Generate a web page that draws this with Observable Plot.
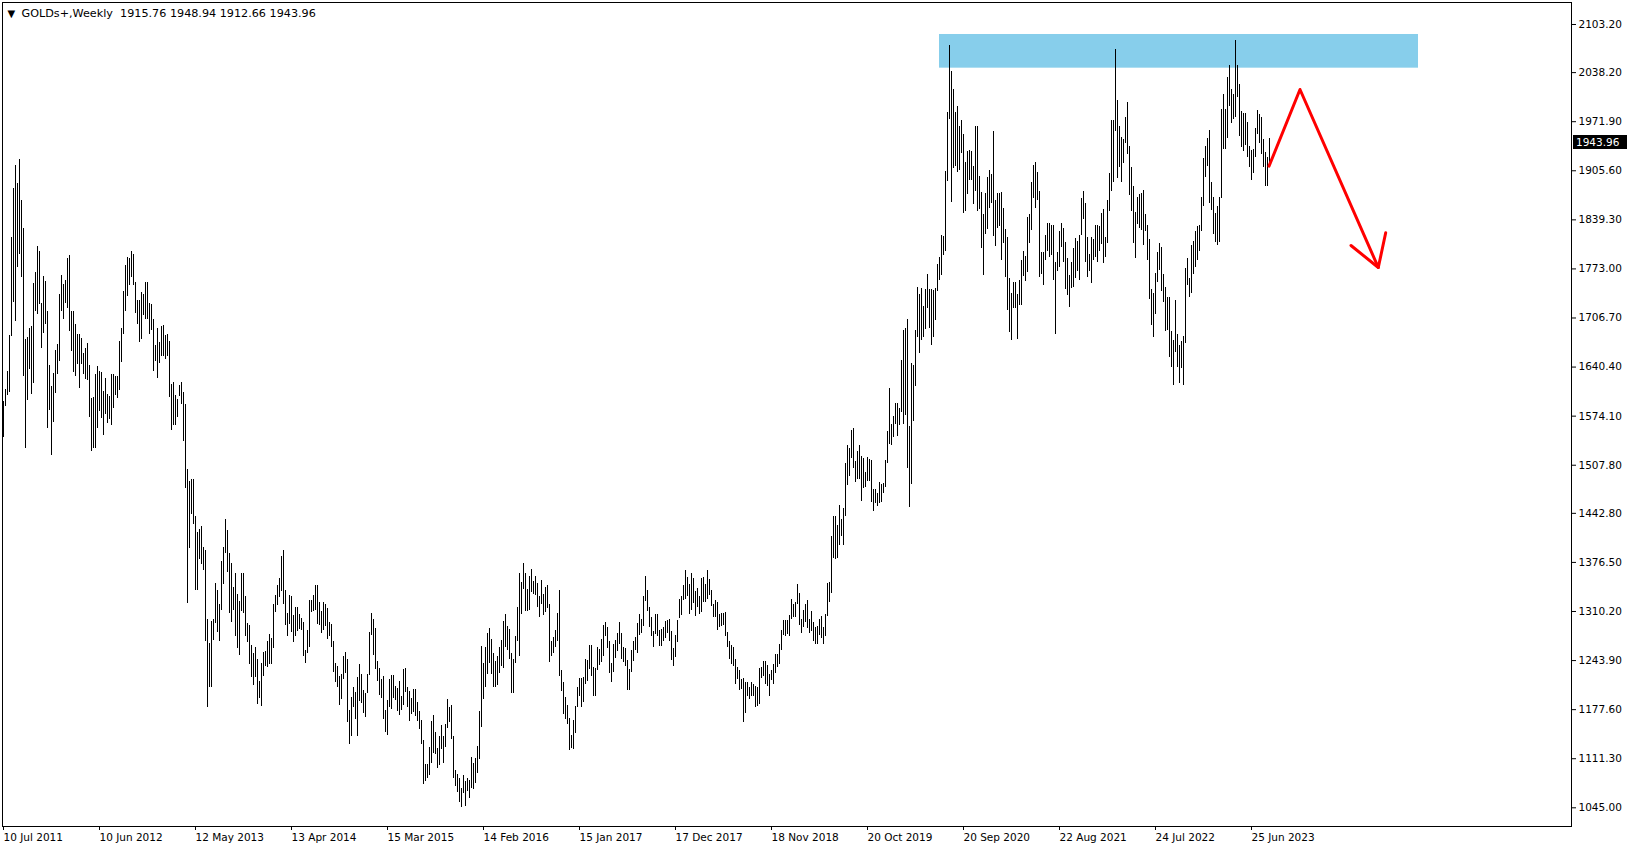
<!DOCTYPE html>
<html>
<head>
<meta charset="utf-8">
<script src="https://cdn.jsdelivr.net/npm/d3@7"></script>
<script src="https://cdn.jsdelivr.net/npm/@observablehq/plot@0.6"></script>
<style>
html, body { margin: 0; padding: 0; background: #fff; }
#chart svg { display: block; }
</style>
</head>
<body>
<div id="chart"></div>
<script>
// ---- chart text ----
const symbolName = "GOLDs+";
const periodName = "Weekly";
const lastOHLC = [1915.76, 1948.94, 1912.66, 1943.96];

// ---- axes ----
const xTickIdx = [0, 48, 96, 144, 192, 240, 288, 336, 384, 432, 480, 528, 576, 624];
const xTickLabels = ["10 Jul 2011", "10 Jun 2012", "12 May 2013", "13 Apr 2014", "15 Mar 2015", "14 Feb 2016",
  "15 Jan 2017", "17 Dec 2017", "18 Nov 2018", "20 Oct 2019", "20 Sep 2020", "22 Aug 2021", "24 Jul 2022", "25 Jun 2023"];
const yTicks = [1045.00, 1111.30, 1177.60, 1243.90, 1310.20, 1376.50, 1442.80, 1507.80, 1574.10,
  1640.40, 1706.70, 1773.00, 1839.30, 1905.60, 1971.90, 2038.20, 2103.20];

// ---- resistance zone (bar index, price) ----
const zoneIdx = [468, 707.5];
const zonePrice = [2044.2, 2089.7];

// ---- hand-drawn red arrow (bar index, price, stroke id) ----
const arrowIdx = [632.75, 648.25, 687.4, 691.1, 673.75, 687.4];
const arrowPrice = [1911.8, 2015.4, 1774.9, 1821.8, 1804.6, 1774.9];
const arrowStroke = [0, 0, 0, 0, 1, 1];

// ---- weekly bars [high, low], one week per entry, from the week of 10 Jul 2011 ----
const w2011 = [[1594,1545],[1610,1587],[1634,1602],[1683,1606],[1815,1682],[1881,1728],[1913,1702],[1889,1775],[1921,1793],[1865,1762],
  [1828,1628],[1678,1531],[1680,1595],[1692,1637],[1695,1604],[1753,1618],[1768,1716],[1803,1711],[1797,1725],[1726,1666],
  [1763,1686],[1756,1698],[1716,1558],[1642,1582],[1614,1521]];
const w2012 = [[1632,1566],[1663,1605],[1671,1630],[1739,1648],[1764,1716],[1752,1705],[1757,1726],[1787,1720],[1791,1688],[1716,1662],
  [1716,1633],[1698,1628],[1684,1644],[1684,1611],[1679,1644],[1659,1630],[1666,1623],[1672,1622],[1642,1572],[1598,1526],
  [1599,1531],[1631,1531],[1641,1558],[1635,1580],[1633,1571],[1608,1548],[1625,1576],[1603,1564],[1600,1569],[1630,1562],
  [1630,1584],[1627,1602],[1627,1598],[1675,1609],[1693,1646],[1743,1684],[1777,1716],[1788,1736],[1787,1751],[1797,1762],
  [1792,1750],[1754,1713],[1731,1698],[1730,1673],[1741,1677],[1739,1710],[1754,1704],[1755,1705],[1726,1685],[1725,1690],
  [1705,1634],[1670,1648],[1693,1625]];
const w2013 = [[1673,1645],[1695,1655],[1697,1655],[1683,1650],[1684,1655],[1675,1599],[1617,1555],[1619,1562],[1602,1562],[1597,1572],
  [1616,1600],[1620,1590],[1606,1540],[1590,1476],[1502,1321],[1486,1395],[1488,1441],[1488,1428],[1438,1339],[1417,1338],
  [1421,1380],[1425,1374],[1397,1366],[1392,1269],[1299,1180],[1267,1207],[1297,1208],[1300,1271],[1348,1294],[1339,1282],
  [1320,1270],[1378,1312],[1397,1346],[1434,1389],[1419,1363],[1388,1307],[1375,1295],[1343,1311],[1362,1277],[1333,1260],
  [1324,1251],[1362,1310],[1361,1308],[1330,1277],[1294,1268],[1291,1238],[1264,1221],[1253,1210],[1261,1221],[1246,1185],
  [1216,1193],[1240,1182]];
const w2014 = [[1255,1223],[1256,1236],[1270,1235],[1279,1238],[1274,1238],[1320,1260],[1332,1309],[1345,1318],[1355,1329],[1385,1337],
  [1392,1320],[1339,1291],[1307,1277],[1332,1292],[1331,1282],[1305,1268],[1316,1277],[1315,1283],[1306,1286],[1301,1284],
  [1296,1250],[1258,1240],[1284,1253],[1325,1262],[1325,1309],[1332,1310],[1345,1311],[1345,1292],[1322,1291],[1310,1281],
  [1322,1285],[1320,1290],[1314,1273],[1296,1276],[1293,1262],[1270,1228],[1240,1214],[1236,1207],[1223,1183],[1225,1191],
  [1250,1219],[1255,1226],[1245,1160],[1177,1131],[1194,1142],[1207,1180],[1201,1164],[1221,1142],[1238,1188],[1225,1186],
  [1203,1172],[1200,1167]];
const w2015 = [[1225,1200],[1282,1224],[1307,1278],[1300,1251],[1287,1232],[1243,1216],[1233,1197],[1219,1192],[1222,1164],[1176,1147],
  [1190,1143],[1219,1180],[1224,1178],[1224,1193],[1209,1190],[1206,1175],[1215,1170],[1195,1177],[1232,1183],[1233,1201],
  [1207,1181],[1202,1162],[1193,1171],[1205,1174],[1205,1168],[1187,1162],[1175,1151],[1163,1130],[1136,1077],[1104,1080],
  [1104,1085],[1126,1089],[1162,1105],[1170,1118],[1147,1117],[1125,1098],[1141,1102],[1156,1124],[1141,1105],[1158,1127],
  [1191,1152],[1180,1160],[1183,1137],[1142,1085],[1095,1074],[1090,1065],[1085,1052],[1071,1046],[1088,1064],[1080,1047],
  [1085,1067],[1082,1058]];
const w2016 = [[1113,1071],[1105,1070],[1112,1078],[1128,1092],[1175,1110],[1263,1154],[1240,1191],[1262,1208],[1281,1225],[1287,1240],
  [1272,1225],[1253,1208],[1243,1208],[1250,1210],[1262,1226],[1271,1236],[1297,1233],[1306,1262],[1290,1257],[1286,1245],
  [1253,1200],[1245,1200],[1276,1240],[1316,1270],[1362,1250],[1350,1306],[1375,1340],[1362,1310],[1340,1310],[1357,1312],
  [1367,1336],[1351,1333],[1358,1332],[1348,1316],[1330,1302],[1352,1320],[1333,1305],[1343,1309],[1345,1314],[1319,1241],
  [1270,1250],[1275,1254],[1284,1261],[1308,1270],[1338,1222],[1230,1202],[1214,1171],[1194,1164],[1183,1157],[1165,1122],
  [1143,1125],[1163,1124]];
const w2017 = [[1182,1146],[1207,1180],[1220,1195],[1220,1180],[1221,1187],[1245,1212],[1244,1216],[1264,1232],[1264,1223],[1235,1195],
  [1233,1196],[1261,1231],[1259,1237],[1273,1241],[1291,1249],[1296,1276],[1289,1260],[1269,1227],[1240,1214],[1265,1228],
  [1271,1247],[1281,1256],[1296,1265],[1280,1245],[1261,1241],[1260,1236],[1244,1204],[1232,1204],[1257,1228],[1270,1243],
  [1275,1257],[1294,1253],[1306,1278],[1300,1280],[1330,1290],[1357,1324],[1339,1310],[1316,1288],[1302,1276],[1283,1261],
  [1306,1279],[1306,1276],[1284,1263],[1286,1263],[1289,1269],[1297,1274],[1298,1280],[1299,1270],[1283,1244],[1260,1236],
  [1278,1248],[1298,1268],[1326,1301]];
const w2018 = [[1330,1305],[1345,1325],[1366,1327],[1356,1330],[1346,1306],[1362,1311],[1355,1321],[1337,1303],[1341,1316],[1330,1306],
  [1355,1309],[1356,1322],[1346,1322],[1365,1326],[1354,1332],[1338,1317],[1319,1302],[1325,1302],[1322,1285],[1306,1288],
  [1307,1290],[1308,1291],[1309,1277],[1282,1261],[1270,1246],[1264,1238],[1262,1236],[1245,1211],[1235,1219],[1230,1204],
  [1219,1205],[1220,1160],[1214,1172],[1214,1195],[1208,1191],[1214,1195],[1211,1195],[1209,1180],[1208,1182],[1233,1184],
  [1234,1220],[1243,1222],[1243,1211],[1237,1209],[1225,1196],[1230,1217],[1238,1212],[1252,1227],[1252,1234],[1266,1239],
  [1284,1257],[1298,1278]];
const w2019 = [[1298,1276],[1298,1279],[1305,1276],[1326,1299],[1320,1302],[1322,1302],[1346,1319],[1335,1291],[1300,1281],[1312,1289],
  [1320,1296],[1325,1287],[1300,1280],[1310,1283],[1295,1270],[1289,1266],[1290,1266],[1300,1278],[1303,1274],[1289,1266],
  [1306,1276],[1348,1304],[1349,1322],[1411,1335],[1439,1382],[1438,1381],[1426,1382],[1453,1400],[1434,1412],[1449,1400],
  [1510,1439],[1535,1480],[1531,1492],[1555,1517],[1557,1503],[1513,1484],[1526,1488],[1535,1488],[1519,1459],[1517,1476],
  [1498,1478],[1518,1486],[1516,1486],[1514,1457],[1475,1445],[1475,1456],[1470,1452],[1485,1456],[1482,1457],[1483,1470],
  [1514,1478],[1553,1510]];
const w2020 = [[1611,1536],[1563,1535],[1573,1545],[1591,1563],[1591,1547],[1584,1562],[1649,1579],[1690,1563],[1692,1575],[1704,1504],
  [1560,1451],[1645,1482],[1643,1567],[1690,1614],[1748,1680],[1739,1659],[1747,1676],[1722,1680],[1745,1691],[1765,1720],
  [1745,1692],[1745,1670],[1744,1681],[1747,1703],[1779,1742],[1789,1757],[1818,1764],[1817,1791],[1905,1797],[1984,1891],
  [2075,1975],[2040,1863],[2016,1909],[1984,1911],[1992,1903],[1966,1906],[1973,1929],[1954,1848],[1917,1850],[1932,1874],
  [1933,1892],[1931,1893],[1911,1860],[1966,1877],[1965,1850],[1898,1853],[1876,1800],[1847,1764],[1875,1820],[1896,1826],
  [1906,1855],[1900,1862]];
const w2021 = [[1959,1817],[1865,1803],[1875,1827],[1875,1830],[1876,1785],[1855,1808],[1826,1761],[1816,1717],[1760,1687],[1740,1676],
  [1755,1720],[1755,1720],[1738,1678],[1758,1723],[1784,1724],[1797,1763],[1790,1756],[1843,1768],[1846,1808],[1890,1825],
  [1913,1868],[1917,1855],[1903,1865],[1878,1761],[1795,1766],[1795,1750],[1818,1784],[1834,1796],[1834,1789],[1832,1791],
  [1832,1757],[1782,1684],[1795,1770],[1823,1775],[1834,1802],[1827,1782],[1809,1745],[1787,1737],[1764,1721],[1781,1746],
  [1800,1748],[1814,1760],[1810,1770],[1818,1758],[1868,1818],[1877,1840],[1862,1781],[1816,1762],[1793,1770],[1816,1753],
  [1813,1785],[1831,1789]];
const w2022 = [[1832,1782],[1830,1797],[1848,1806],[1853,1780],[1815,1788],[1865,1807],[1902,1850],[1974,1878],[1973,1890],[2070,1958],
  [2000,1895],[1966,1910],[1950,1890],[1948,1915],[1978,1942],[1998,1928],[1939,1872],[1910,1850],[1884,1807],[1849,1787],
  [1870,1833],[1874,1828],[1875,1825],[1879,1805],[1847,1823],[1831,1784],[1813,1732],[1745,1697],[1740,1680],[1767,1711],
  [1795,1754],[1808,1771],[1802,1743],[1765,1728],[1748,1689],[1735,1690],[1735,1654],[1688,1640],[1676,1615],[1730,1660],
  [1685,1640],[1670,1618],[1675,1638],[1682,1616],[1773,1672],[1787,1750],[1760,1735],[1805,1740],[1810,1765],[1824,1775],
  [1830,1785],[1832,1797]];
const w2023 = [[1870,1824],[1922,1858],[1938,1896],[1949,1911],[1960,1861],[1890,1852],[1870,1819],[1848,1809],[1858,1805],[1870,1809],
  [1989,1868],[2009,1934],[1988,1934],[2032,1949],[2048,1992],[2015,1969],[2009,1975],[2081,1978],[2048,2004],[2022,1952],
  [1985,1937],[1983,1932],[1983,1940],[1971,1924],[1938,1910],[1933,1893],[1935,1902],[1963,1923],[1987,1954],[1982,1942],
  [1978,1928],[1948,1910],[1930,1885],[1923,1884],[1948.94,1912.66]];

// ---- build tables for the library ----
const weeks = [w2011, w2012, w2013, w2014, w2015, w2016, w2017, w2018, w2019, w2020, w2021, w2022, w2023].flat();
const bars = weeks.map(([high, low], i) => ({i, high, low}));
const zone = [{x1: zoneIdx[0], x2: zoneIdx[1], y1: zonePrice[0], y2: zonePrice[1]}];
const arrow = arrowIdx.map((x, k) => ({x, y: arrowPrice[k], z: arrowStroke[k]}));
const titleText = `${symbolName},${periodName}\u00a0\u00a0${lastOHLC.map(v => v.toFixed(2)).join(" ")}`;

const chart = Plot.plot({
  width: 1635,
  height: 850,
  marginLeft: 2,
  marginRight: 64,
  marginTop: 2,
  marginBottom: 24,
  x: {type: "linear", domain: [-0.5, 784], axis: null},
  y: {type: "linear", domain: [1019.74, 2132.92], axis: null},
  style: {background: "#ffffff", color: "#000000", fontFamily: "'DejaVu Sans', sans-serif", fontSize: "10.5px"},
  marks: [
    Plot.rect(zone, {x1: "x1", x2: "x2", y1: "y1", y2: "y2", fill: "#87CEEB"}),
    Plot.ruleX(bars, {x: "i", y1: "low", y2: "high", stroke: "#000000", strokeWidth: 1, shapeRendering: "crispEdges"}),
    Plot.line(arrow, {x: "x", y: "y", z: "z", stroke: "#ff0000", strokeWidth: 3, strokeLinejoin: "round", strokeLinecap: "round"}),
    Plot.frame({stroke: "#000000"}),
    Plot.axisX({
      ticks: xTickIdx,
      tickFormat: d => xTickLabels[xTickIdx.indexOf(d)],
      tickSize: 4,
      tickPadding: 3,
      textAnchor: "start",
      label: null
    }),
    Plot.axisY({
      anchor: "right",
      ticks: yTicks,
      tickFormat: d => d.toFixed(2),
      tickSize: 4,
      tickPadding: 3,
      label: null
    }),
    Plot.text([titleText], {frameAnchor: "top-left", dx: 19, dy: 7, textAnchor: "start", lineAnchor: "top", fontSize: 11.2, text: d => d, fill: "#000000"}),
    Plot.text(["\u25BC"], {frameAnchor: "top-left", dx: 5, dy: 7, textAnchor: "start", lineAnchor: "top", fontSize: 10, text: d => d, fill: "#000000"})
  ]
});

// current price marker on the price axis, placed through the plot's own y scale
const yPos = chart.scale("y").apply(lastOHLC[3]);
const svg = d3.select(chart);
const g = svg.append("g");
g.append("rect")
  .attr("x", 1573).attr("y", Math.round(yPos) - 7)
  .attr("width", 54).attr("height", 14)
  .attr("fill", "#000000");
g.append("text")
  .attr("x", 1576).attr("y", yPos).attr("dy", "0.35em")
  .attr("text-anchor", "start")
  .attr("fill", "#ffffff")
  .attr("font-family", "'DejaVu Sans', sans-serif")
  .attr("font-size", "10.5px")
  .text(lastOHLC[3].toFixed(2));

document.getElementById("chart").appendChild(chart);
</script>
</body>
</html>
